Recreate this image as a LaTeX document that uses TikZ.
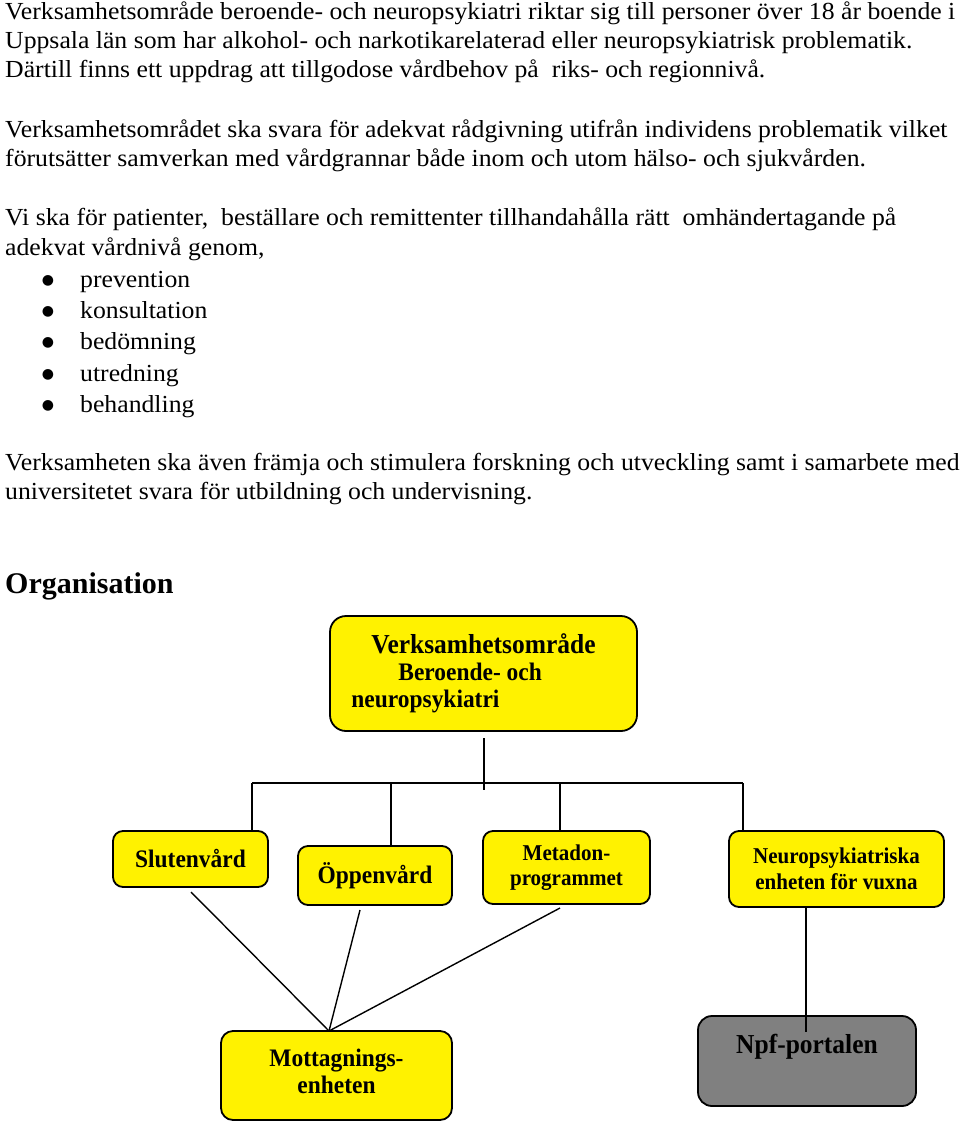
\documentclass[tikz,border=0pt]{standalone}
\usepackage{fontspec}
\setmainfont{Liberation Serif}
\newfontfamily\bodyfont{Liberation Serif}[FakeStretch=1.05]
\newfontfamily\boxfont{Liberation Serif}[FakeStretch=0.93]
\newfontfamily\dotfont{DejaVu Sans}
\begin{document}
\begin{tikzpicture}[x=1pt,y=-1pt,
    txt/.style={anchor=base west,inner sep=0pt,font=\bodyfont\fontsize{24.5}{29}\selectfont},
    dot/.style={anchor=center,inner sep=0pt,font=\dotfont\fontsize{14}{14}\selectfont},
    unit/.style={draw,line width=1.8pt,fill=yellow,rounded corners=10pt,align=center,
      inner sep=0pt,font=\boxfont\bfseries\fontsize{25.2}{27}\selectfont},
    smallunit/.style={unit,font=\boxfont\bfseries\fontsize{22.6}{25.5}\selectfont},
    link/.style={line width=1.4pt}]
  \useasboundingbox (0,0) rectangle (960,1125);
  \node[txt] (p1a) at (5,19) {Verksamhetsområde beroende- och neuropsykiatri riktar sig till personer över 18 år boende i};
  \node[txt] (p1b) at (5,48) {Uppsala län som har alkohol- och narkotikarelaterad eller neuropsykiatrisk problematik.};
  \node[txt] (p1c) at (5,77) {Därtill finns ett uppdrag att tillgodose vårdbehov på~ riks- och regionnivå.};
  \node[txt] (p2a) at (5,137) {Verksamhetsområdet ska svara för adekvat rådgivning utifrån individens problematik vilket};
  \node[txt] (p2b) at (5,166) {förutsätter samverkan med vårdgrannar både inom och utom hälso- och sjukvården.};
  \node[txt] (p3a) at (5,225) {Vi ska för patienter,~ beställare och remittenter tillhandahålla rätt~ omhändertagande på};
  \node[txt] (p3b) at (5,255) {adekvat vårdnivå genom,};
  \node[dot] (b1) at (48,281) {●};
  \node[txt] (i1) at (80,287) {prevention};
  \node[dot] (b2) at (48,312) {●};
  \node[txt] (i2) at (80,318) {konsultation};
  \node[dot] (b3) at (48,343) {●};
  \node[txt] (i3) at (80,349) {bedömning};
  \node[dot] (b4) at (48,375) {●};
  \node[txt] (i4) at (80,381) {utredning};
  \node[dot] (b5) at (48,406) {●};
  \node[txt] (i5) at (80,412) {behandling};
  \node[txt] (p4a) at (5,470) {Verksamheten ska även främja och stimulera forskning och utveckling samt i samarbete med};
  \node[txt] (p4b) at (5,499) {universitetet svara för utbildning och undervisning.};
  \node[txt,font=\bfseries\fontsize{30}{36}\selectfont] (org) at (5,593) {Organisation};

  \node[unit,rounded corners=16pt,align=left,minimum width=307pt,minimum height=115pt] (top) at (483.5,673.5)
    {{\fontsize{27.4}{27.5}\selectfont\hspace*{20pt}Verksamhetsområde\hspace*{20pt}}\\
     \hspace*{47pt}Beroende- och\\ neuropsykiatri};
  \node[unit,minimum width=155pt,minimum height=56pt] (sluten) at (190.5,859) {Slutenvård};
  \node[unit,minimum width=154pt,minimum height=59pt] (oppen) at (375,875.5) {Öppenvård};
  \node[smallunit,minimum width=167pt,minimum height=73pt] (metadon) at (566.5,867.5) {Metadon-\\programmet};
  \node[smallunit,minimum width=215pt,minimum height=76pt] (neuro) at (836.5,869) {Neuropsykiatriska\\enheten för vuxna};
  \node[unit,rounded corners=12pt,minimum width=231pt,minimum height=89pt] (mott) at (336.5,1075.5) {Mottagnings-\\enheten\\[-19pt]};
  \node[unit,rounded corners=14pt,fill=gray,minimum width=218pt,minimum height=90pt,
    font=\boxfont\bfseries\fontsize{27.4}{28}\selectfont,text height=19pt,text depth=35pt] (npf) at (807,1061) {Npf-portalen};

  \coordinate (stem1) at (484,738);
  \coordinate (stem2) at (484,790);
  \coordinate (bar1) at (252,783);
  \coordinate (bar2) at (391,783);
  \coordinate (bar3) at (560,783);
  \coordinate (bar4) at (743,783);
  \coordinate (s1) at (191,892);
  \coordinate (s2) at (360,910);
  \coordinate (s3) at (560,908);
  \coordinate (apex) at (329,1031);
  \coordinate (n1) at (806,908);
  \coordinate (n2) at (806,1032);
  \begin{scope}[link]
    \draw (stem1) to (stem2);
    \draw (bar1) to (bar4);
    \draw (bar1) to (bar1 |- sluten.north);
    \draw (bar2) to (bar2 |- oppen.north);
    \draw (bar3) to (bar3 |- metadon.north);
    \draw (bar4) to (bar4 |- neuro.north);
    \draw (s1) to (apex);
    \draw (s2) to (apex);
    \draw (s3) to (apex);
    \draw (n1) to (n2);
  \end{scope}
\end{tikzpicture}
\end{document}
